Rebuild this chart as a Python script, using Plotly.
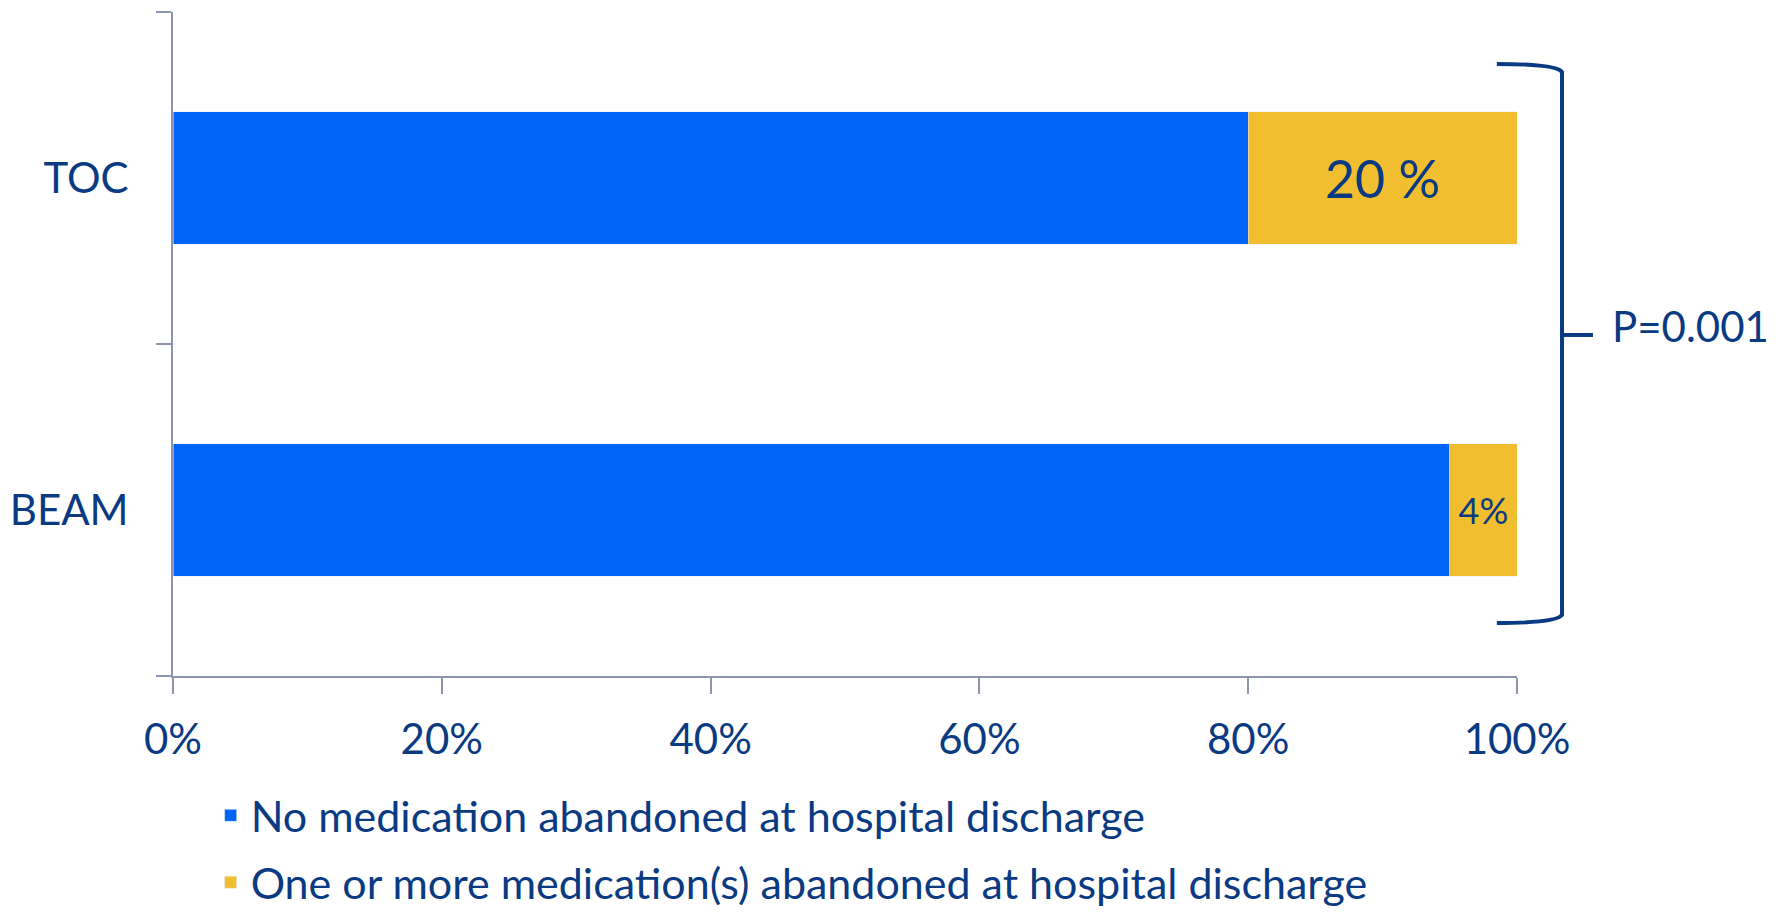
import plotly.graph_objects as go

# ---- data ----
categories = ["BEAM", "TOC"]
no_abandoned = [95, 80]
abandoned = [5, 20]
abandoned_labels = ["4%", "20 %"]
series_names = ["No medication abandoned at hospital discharge",
                "One or more medication(s) abandoned at hospital discharge"]
tick_vals = [0, 20, 40, 60, 80, 100]
tick_text = ["0%", "20%", "40%", "60%", "80%", "100%"]
p_value_text = "P=0.001"

NAVY = "#0A3A82"
AXIS = "#8D94AE"
BLUE = "#0064F8"
GOLD = "#F0BE2E"

fig = go.Figure()
fig.add_trace(go.Bar(
    y=categories, x=no_abandoned, orientation="h", name=series_names[0],
    marker=dict(color=BLUE), legendgroup="a", hoverinfo="x+y",
))
fig.add_trace(go.Bar(
    y=categories, x=abandoned, orientation="h", name=series_names[1],
    marker=dict(color=GOLD), legendgroup="b",
    text=abandoned_labels, textposition="inside", insidetextanchor="middle",
    textangle=0, constraintext="none",
    textfont=dict(size=[36, 52], color=NAVY, family="Lato"),
    hoverinfo="x+y",
))

# bracket (paper coordinates)
x0, x1, xs = 0.985, 1.0335, 1.0565
yt, ytc, yb, ybc, ym = 0.9217, 0.9096, 0.0798, 0.0919, 0.5136
path = (f"M {x0},{yt} Q {x1 - 0.004},{yt} {x1},{ytc} "
        f"L {x1},{ybc} Q {x1 - 0.004},{yb} {x0},{yb}")
fig.add_shape(type="path", path=path, xref="paper", yref="paper",
              line=dict(color=NAVY, width=4))
fig.add_shape(type="line", x0=x1, x1=xs, y0=ym, y1=ym, xref="paper", yref="paper",
              line=dict(color=NAVY, width=4))
fig.add_annotation(text=p_value_text, xref="paper", yref="paper", x=1.0695, y=0.527,
                   xanchor="left", yanchor="middle", showarrow=False,
                   font=dict(size=42, color=NAVY, family="Lato"))

fig.update_layout(
    width=1781, height=913,
    margin=dict(l=173, r=264, t=12, b=237, autoexpand=False),
    paper_bgcolor="white", plot_bgcolor="white",
    font=dict(family="Lato", color=NAVY),
    barmode="stack", bargap=0.6,
    showlegend=True,
    legend=dict(orientation="v", x=0.028, xanchor="left", y=-0.158, yanchor="top",
                font=dict(size=43, color=NAVY), traceorder="grouped",
                tracegroupgap=8, bgcolor="rgba(0,0,0,0)"),
    xaxis=dict(range=[0, 100], tickvals=tick_vals, ticktext=tick_text,
               showgrid=False, zeroline=False, showline=True, linecolor=AXIS,
               linewidth=2, ticks="outside", ticklen=16, tickcolor=AXIS, tickwidth=2,
               tickfont=dict(size=42, color=NAVY), ticklabelstandoff=10, fixedrange=True),
    yaxis=dict(range=[-0.5, 1.5], showgrid=False, zeroline=False, showline=True,
               linecolor=AXIS, linewidth=2, ticks="outside", ticklen=15,
               tickcolor=AXIS, tickwidth=2, tickson="boundaries",
               tickfont=dict(size=42, color=NAVY), ticklabelstandoff=34,
               fixedrange=True),
)

fig.write_html("out.html")
